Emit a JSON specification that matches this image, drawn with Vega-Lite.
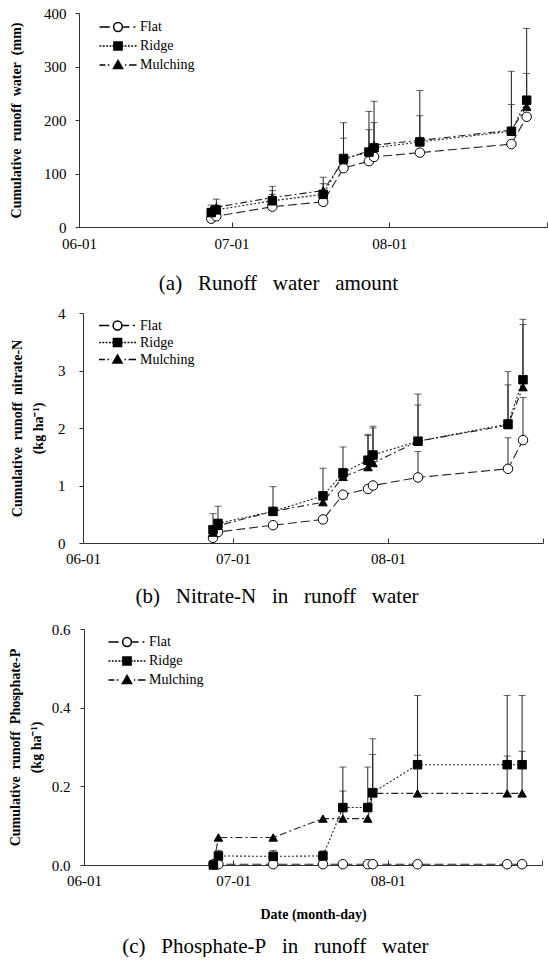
{
  "$schema": "https://vega.github.io/schema/vega-lite/v6.json",
  "padding": {"left": 8, "top": 6, "right": 0, "bottom": 0},
  "background": "white",
  "config": {
    "font": "Liberation Serif",
    "view": {"stroke": null},
    "axis": {
      "labelFont": "Liberation Serif",
      "labelFontSize": 15,
      "labelColor": "#000",
      "titleFont": "Liberation Serif",
      "titleColor": "#000",
      "domainColor": "#333",
      "tickColor": "#333",
      "grid": false
    },
    "legend": {
      "labelFont": "Liberation Serif",
      "labelFontSize": 14,
      "labelColor": "#000"
    },
    "title": {"font": "Liberation Serif", "color": "#000"}
  },
  "data": {
    "values": [
      {"p": "a", "d": "2013/06/27", "s": "Flat", "v": 15.5},
      {"p": "a", "d": "2013/06/28", "s": "Flat", "v": 20},
      {"p": "a", "d": "2013/07/09", "s": "Flat", "v": 38, "u": 61},
      {"p": "a", "d": "2013/07/19", "s": "Flat", "v": 47},
      {"p": "a", "d": "2013/07/23", "s": "Flat", "v": 110},
      {"p": "a", "d": "2013/07/28", "s": "Flat", "v": 123},
      {"p": "a", "d": "2013/07/29", "s": "Flat", "v": 131},
      {"p": "a", "d": "2013/08/07", "s": "Flat", "v": 139},
      {"p": "a", "d": "2013/08/25", "s": "Flat", "v": 155},
      {"p": "a", "d": "2013/08/28", "s": "Flat", "v": 206},
      {"p": "a", "d": "2013/06/27", "s": "Ridge", "v": 27, "u": 41},
      {"p": "a", "d": "2013/06/28", "s": "Ridge", "v": 32, "u": 52},
      {"p": "a", "d": "2013/07/09", "s": "Ridge", "v": 49, "u": 76},
      {"p": "a", "d": "2013/07/19", "s": "Ridge", "v": 61, "u": 93},
      {"p": "a", "d": "2013/07/23", "s": "Ridge", "v": 128, "u": 195},
      {"p": "a", "d": "2013/07/28", "s": "Ridge", "v": 140, "u": 216},
      {"p": "a", "d": "2013/07/29", "s": "Ridge", "v": 148, "u": 235},
      {"p": "a", "d": "2013/08/07", "s": "Ridge", "v": 159, "u": 255},
      {"p": "a", "d": "2013/08/25", "s": "Ridge", "v": 179, "u": 291},
      {"p": "a", "d": "2013/08/28", "s": "Ridge", "v": 237, "u": 371},
      {"p": "a", "d": "2013/06/27", "s": "Mulching", "v": 32},
      {"p": "a", "d": "2013/06/28", "s": "Mulching", "v": 37},
      {"p": "a", "d": "2013/07/09", "s": "Mulching", "v": 55, "u": 68},
      {"p": "a", "d": "2013/07/19", "s": "Mulching", "v": 68, "u": 81},
      {"p": "a", "d": "2013/07/23", "s": "Mulching", "v": 125, "u": 166},
      {"p": "a", "d": "2013/07/28", "s": "Mulching", "v": 143, "u": 182},
      {"p": "a", "d": "2013/07/29", "s": "Mulching", "v": 153, "u": 195},
      {"p": "a", "d": "2013/08/07", "s": "Mulching", "v": 162, "u": 208},
      {"p": "a", "d": "2013/08/25", "s": "Mulching", "v": 181, "u": 229},
      {"p": "a", "d": "2013/08/28", "s": "Mulching", "v": 225, "u": 287},

      {"p": "b", "d": "2013/06/27", "s": "Flat", "v": 0.09},
      {"p": "b", "d": "2013/06/28", "s": "Flat", "v": 0.19},
      {"p": "b", "d": "2013/07/09", "s": "Flat", "v": 0.31},
      {"p": "b", "d": "2013/07/19", "s": "Flat", "v": 0.41},
      {"p": "b", "d": "2013/07/23", "s": "Flat", "v": 0.84},
      {"p": "b", "d": "2013/07/28", "s": "Flat", "v": 0.94},
      {"p": "b", "d": "2013/07/29", "s": "Flat", "v": 1.0},
      {"p": "b", "d": "2013/08/07", "s": "Flat", "v": 1.14, "u": 1.59},
      {"p": "b", "d": "2013/08/25", "s": "Flat", "v": 1.29, "u": 1.83},
      {"p": "b", "d": "2013/08/28", "s": "Flat", "v": 1.79, "u": 2.53},
      {"p": "b", "d": "2013/06/27", "s": "Ridge", "v": 0.23, "u": 0.51},
      {"p": "b", "d": "2013/06/28", "s": "Ridge", "v": 0.34, "u": 0.64},
      {"p": "b", "d": "2013/07/09", "s": "Ridge", "v": 0.55, "u": 0.98},
      {"p": "b", "d": "2013/07/19", "s": "Ridge", "v": 0.82, "u": 1.3},
      {"p": "b", "d": "2013/07/23", "s": "Ridge", "v": 1.22, "u": 1.67},
      {"p": "b", "d": "2013/07/28", "s": "Ridge", "v": 1.44, "u": 1.89},
      {"p": "b", "d": "2013/07/29", "s": "Ridge", "v": 1.53, "u": 2.03},
      {"p": "b", "d": "2013/08/07", "s": "Ridge", "v": 1.77, "u": 2.59},
      {"p": "b", "d": "2013/08/25", "s": "Ridge", "v": 2.07, "u": 2.98},
      {"p": "b", "d": "2013/08/28", "s": "Ridge", "v": 2.84, "u": 3.89},
      {"p": "b", "d": "2013/06/27", "s": "Mulching", "v": 0.18},
      {"p": "b", "d": "2013/06/28", "s": "Mulching", "v": 0.3},
      {"p": "b", "d": "2013/07/09", "s": "Mulching", "v": 0.55},
      {"p": "b", "d": "2013/07/19", "s": "Mulching", "v": 0.71},
      {"p": "b", "d": "2013/07/23", "s": "Mulching", "v": 1.15},
      {"p": "b", "d": "2013/07/28", "s": "Mulching", "v": 1.32, "u": 1.87},
      {"p": "b", "d": "2013/07/29", "s": "Mulching", "v": 1.39, "u": 2.0},
      {"p": "b", "d": "2013/08/07", "s": "Mulching", "v": 1.77, "u": 2.4},
      {"p": "b", "d": "2013/08/25", "s": "Mulching", "v": 2.05, "u": 2.75},
      {"p": "b", "d": "2013/08/28", "s": "Mulching", "v": 2.71, "u": 3.8},

      {"p": "c", "d": "2013/06/27", "s": "Flat", "v": 0.002},
      {"p": "c", "d": "2013/06/28", "s": "Flat", "v": 0.002},
      {"p": "c", "d": "2013/07/09", "s": "Flat", "v": 0.002},
      {"p": "c", "d": "2013/07/19", "s": "Flat", "v": 0.002},
      {"p": "c", "d": "2013/07/23", "s": "Flat", "v": 0.002},
      {"p": "c", "d": "2013/07/28", "s": "Flat", "v": 0.002},
      {"p": "c", "d": "2013/07/29", "s": "Flat", "v": 0.002},
      {"p": "c", "d": "2013/08/07", "s": "Flat", "v": 0.002},
      {"p": "c", "d": "2013/08/25", "s": "Flat", "v": 0.002},
      {"p": "c", "d": "2013/08/28", "s": "Flat", "v": 0.002},
      {"p": "c", "d": "2013/06/27", "s": "Ridge", "v": 0},
      {"p": "c", "d": "2013/06/28", "s": "Ridge", "v": 0.023, "u": 0.037},
      {"p": "c", "d": "2013/07/09", "s": "Ridge", "v": 0.022, "u": 0.037},
      {"p": "c", "d": "2013/07/19", "s": "Ridge", "v": 0.023, "u": 0.036},
      {"p": "c", "d": "2013/07/23", "s": "Ridge", "v": 0.146, "u": 0.249},
      {"p": "c", "d": "2013/07/28", "s": "Ridge", "v": 0.146, "u": 0.249},
      {"p": "c", "d": "2013/07/29", "s": "Ridge", "v": 0.184, "u": 0.321},
      {"p": "c", "d": "2013/08/07", "s": "Ridge", "v": 0.255, "u": 0.431},
      {"p": "c", "d": "2013/08/25", "s": "Ridge", "v": 0.255, "u": 0.431},
      {"p": "c", "d": "2013/08/28", "s": "Ridge", "v": 0.255, "u": 0.431},
      {"p": "c", "d": "2013/06/27", "s": "Mulching", "v": 0},
      {"p": "c", "d": "2013/06/28", "s": "Mulching", "v": 0.07},
      {"p": "c", "d": "2013/07/09", "s": "Mulching", "v": 0.07},
      {"p": "c", "d": "2013/07/19", "s": "Mulching", "v": 0.118},
      {"p": "c", "d": "2013/07/23", "s": "Mulching", "v": 0.118, "u": 0.188},
      {"p": "c", "d": "2013/07/28", "s": "Mulching", "v": 0.118},
      {"p": "c", "d": "2013/07/29", "s": "Mulching", "v": 0.182, "u": 0.281},
      {"p": "c", "d": "2013/08/07", "s": "Mulching", "v": 0.182, "u": 0.279},
      {"p": "c", "d": "2013/08/25", "s": "Mulching", "v": 0.182, "u": 0.277},
      {"p": "c", "d": "2013/08/28", "s": "Mulching", "v": 0.182, "u": 0.289}
    ]
  },
  "bounds": "flush",
  "center": true,
  "spacing": 86,
  "resolve": {
    "scale": {"y": "independent", "shape": "independent"},
    "legend": {"shape": "independent"}
  },
  "vconcat": [
    {
      "width": 468,
      "height": 214,
      "transform": [{"filter": "datum.p === 'a'"}],
      "title": {"text": "(a)\u2002 Runoff\u2002 water\u2002 amount", "orient": "bottom", "anchor": "middle", "frame": "bounds", "fontSize": 21, "fontWeight": "normal", "offset": 22},
      "encoding": {
        "x": {
          "field": "d", "type": "temporal",
          "scale": {"domain": [{"year": 2013, "month": 6, "date": 1}, {"year": 2013, "month": 9, "date": 1}]},
          "axis": {
            "title": null,
            "values": [{"year": 2013, "month": 6, "date": 1}, {"year": 2013, "month": 7, "date": 1}, {"year": 2013, "month": 8, "date": 1}, {"year": 2013, "month": 9, "date": 1}],
            "labelExpr": "month(datum.value) == 8 ? '' : timeFormat(datum.value, '%m-%d')",
            "tickSize": -5, "labelPadding": 14, "labelFlush": false
          }
        },
        "y": {
          "field": "v", "type": "quantitative",
          "scale": {"domain": [0, 400]},
          "axis": {
            "title": "Cumulative\u2002runoff\u2002water\u2002(mm)",
            "titleFontSize": 14, "titleFontWeight": "bold", "titlePadding": 20,
            "values": [0, 100, 200, 300, 400], "tickSize": 4, "labelPadding": 9
          }
        }
      },
      "layer": [
        {
          "mark": {"type": "line", "color": "#222", "strokeWidth": 1.1},
          "encoding": {
            "strokeDash": {"field": "s", "type": "nominal", "scale": {"domain": ["Flat", "Ridge", "Mulching"], "range": [[9, 4], [2, 2], [7, 3, 2, 3]]}, "legend": null}
          }
        },
        {
          "transform": [{"filter": "isValid(datum.u)"}],
          "mark": {"type": "rule", "color": "#222", "strokeWidth": 1},
          "encoding": {"y2": {"field": "u"}}
        },
        {
          "transform": [{"filter": "isValid(datum.u)"}],
          "mark": {"type": "tick", "orient": "horizontal", "size": 7, "thickness": 1, "color": "#222"},
          "encoding": {"y": {"field": "u", "type": "quantitative"}}
        },
        {
          "mark": {"type": "point", "filled": true, "stroke": "#000", "strokeWidth": 1, "opacity": 1},
          "encoding": {
            "shape": {"condition": [{"test": "datum.s === 'Flat'", "value": "circle"}, {"test": "datum.s === 'Mulching'", "value": "triangle-up"}], "value": "square"},
            "fill": {"condition": {"test": "datum.s === 'Flat'", "value": "#fff"}, "value": "#000"},
            "size": {"condition": {"test": "datum.s === 'Flat'", "value": 90}, "value": 72}
          }
        },
        {
          "transform": [{"filter": "false"}],
          "mark": {"type": "point", "filled": false, "color": "#000", "strokeWidth": 1, "opacity": 1},
          "encoding": {
            "shape": {
              "field": "s", "type": "nominal",
              "scale": {
                "domain": ["Flat", "Ridge", "Mulching"],
                "range": [
                  "M-1.85,0H-0.83M-0.44,0A0.44,0.44 0 1,1 0.44,0A0.44,0.44 0 1,1 -0.44,0ZM0.52,0H1.15M1.55,0H1.74",
                  "M-1.85,0H-1.67M-1.52,0H-1.33M-1.18,0H-1M-0.85,0H-0.67M-0.56,0H-0.44M-0.41,-0.41H0.41V0.41H-0.41ZM-0.41,-0.3H0.41M-0.41,-0.2H0.41M-0.41,-0.1H0.41M-0.41,0H0.41M-0.41,0.1H0.41M-0.41,0.2H0.41M-0.41,0.3H0.41M0.44,0H0.56M0.67,0H0.85M1,0H1.18M1.33,0H1.52M1.67,0H1.85",
                  "M-1.85,0H-1.26M-1.02,0H-0.87M0,-0.46L0.46,0.35H-0.46ZM-0.09,-0.3H0.09M-0.15,-0.2H0.15M-0.2,-0.1H0.2M-0.26,0H0.26M-0.32,0.1H0.32M-0.37,0.2H0.37M-0.43,0.3H0.43M0.7,0H0.83M1.11,0H1.85"
                ]
              },
              "legend": {
                "orient": "none", "legendX": 28, "legendY": 3, "title": null,
                "symbolSize": 400, "labelOffset": 11, "rowPadding": 0
              }
            }
          }
        }
      ]
    },
    {
      "width": 460,
      "height": 230,
      "transform": [{"filter": "datum.p === 'b'"}],
      "title": {"text": "(b)\u2002 Nitrate-N\u2002 in\u2002 runoff\u2002 water", "orient": "bottom", "anchor": "middle", "frame": "bounds", "fontSize": 21, "fontWeight": "normal", "offset": 20},
      "encoding": {
        "x": {
          "field": "d", "type": "temporal",
          "scale": {"domain": [{"year": 2013, "month": 6, "date": 1}, {"year": 2013, "month": 9, "date": 1}]},
          "axis": {
            "title": null,
            "values": [{"year": 2013, "month": 6, "date": 1}, {"year": 2013, "month": 7, "date": 1}, {"year": 2013, "month": 8, "date": 1}, {"year": 2013, "month": 9, "date": 1}],
            "labelExpr": "month(datum.value) == 8 ? '' : timeFormat(datum.value, '%m-%d')",
            "tickSize": -5, "labelPadding": 13, "labelFlush": false
          }
        },
        "y": {
          "field": "v", "type": "quantitative",
          "scale": {"domain": [0, 4]},
          "axis": {
            "title": ["Cumulative\u2002runoff\u2002nitrate-N", "(kg ha\u207b\u00b9)"],
            "titleFontSize": 14, "titleFontWeight": "bold", "titlePadding": 12, "titleLineHeight": 21,
            "values": [0, 1, 2, 3, 4], "tickSize": 4, "labelPadding": 14
          }
        }
      },
      "layer": [
        {
          "mark": {"type": "line", "color": "#222", "strokeWidth": 1.1},
          "encoding": {
            "strokeDash": {"field": "s", "type": "nominal", "scale": {"domain": ["Flat", "Ridge", "Mulching"], "range": [[9, 4], [2, 2], [7, 3, 2, 3]]}, "legend": null}
          }
        },
        {
          "transform": [{"filter": "isValid(datum.u)"}],
          "mark": {"type": "rule", "color": "#222", "strokeWidth": 1},
          "encoding": {"y2": {"field": "u"}}
        },
        {
          "transform": [{"filter": "isValid(datum.u)"}],
          "mark": {"type": "tick", "orient": "horizontal", "size": 7, "thickness": 1, "color": "#222"},
          "encoding": {"y": {"field": "u", "type": "quantitative"}}
        },
        {
          "mark": {"type": "point", "filled": true, "stroke": "#000", "strokeWidth": 1, "opacity": 1},
          "encoding": {
            "shape": {"condition": [{"test": "datum.s === 'Flat'", "value": "circle"}, {"test": "datum.s === 'Mulching'", "value": "triangle-up"}], "value": "square"},
            "fill": {"condition": {"test": "datum.s === 'Flat'", "value": "#fff"}, "value": "#000"},
            "size": {"condition": {"test": "datum.s === 'Flat'", "value": 90}, "value": 72}
          }
        },
        {
          "transform": [{"filter": "false"}],
          "mark": {"type": "point", "filled": false, "color": "#000", "strokeWidth": 1, "opacity": 1},
          "encoding": {
            "shape": {
              "field": "s", "type": "nominal",
              "scale": {
                "domain": ["Flat", "Ridge", "Mulching"],
                "range": [
                  "M-2.18,0H-0.98M-0.52,0A0.52,0.52 0 1,1 0.52,0A0.52,0.52 0 1,1 -0.52,0ZM0.61,0H1.35M1.82,0H2.05",
                  "M-2.18,0H-1.96M-1.79,0H-1.56M-1.39,0H-1.18M-1,0H-0.79M-0.66,0H-0.52M-0.48,-0.48H0.48V0.48H-0.48ZM-0.48,-0.35H0.48M-0.48,-0.24H0.48M-0.48,-0.12H0.48M-0.48,0H0.48M-0.48,0.12H0.48M-0.48,0.24H0.48M-0.48,0.35H0.48M0.52,0H0.66M0.79,0H1M1.18,0H1.39M1.56,0H1.79M1.96,0H2.18",
                  "M-2.18,0H-1.48M-1.2,0H-1.02M0,-0.54L0.54,0.41H-0.54ZM-0.11,-0.35H0.11M-0.17,-0.24H0.17M-0.24,-0.12H0.24M-0.31,0H0.31M-0.37,0.12H0.37M-0.44,0.24H0.44M-0.5,0.35H0.5M0.82,0H0.98M1.31,0H2.18"
                ]
              },
              "legend": {
                "orient": "none", "legendX": 25, "legendY": 3, "title": null,
                "symbolSize": 289, "labelOffset": 13, "rowPadding": 0
              }
            }
          }
        }
      ]
    },
    {
      "width": 458,
      "height": 236,
      "transform": [{"filter": "datum.p === 'c'"}],
      "title": {"text": "(c)\u2002 Phosphate-P\u2002 in\u2002 runoff\u2002 water", "orient": "bottom", "anchor": "middle", "frame": "bounds", "fontSize": 21, "fontWeight": "normal", "offset": 15},
      "encoding": {
        "x": {
          "field": "d", "type": "temporal",
          "scale": {"domain": [{"year": 2013, "month": 6, "date": 1}, {"year": 2013, "month": 9, "date": 1}]},
          "axis": {
            "title": "Date (month-day)", "titleFontSize": 14, "titleFontWeight": "bold", "titlePadding": 19,
            "values": [{"year": 2013, "month": 6, "date": 1}, {"year": 2013, "month": 7, "date": 1}, {"year": 2013, "month": 8, "date": 1}, {"year": 2013, "month": 9, "date": 1}],
            "labelExpr": "month(datum.value) == 8 ? '' : timeFormat(datum.value, '%m-%d')",
            "tickSize": -5, "labelPadding": 13, "labelFlush": false
          }
        },
        "y": {
          "field": "v", "type": "quantitative",
          "scale": {"domain": [0, 0.6]},
          "axis": {
            "title": ["Cumulative\u2002runoff\u2002Phosphate-P", "(kg ha\u207b\u00b9)"],
            "titleFontSize": 14, "titleFontWeight": "bold", "titlePadding": 8, "titleLineHeight": 21,
            "values": [0, 0.2, 0.4, 0.6], "format": ".1f", "tickSize": 4, "labelPadding": 10
          }
        }
      },
      "layer": [
        {
          "mark": {"type": "line", "color": "#222", "strokeWidth": 1.1},
          "encoding": {
            "strokeDash": {"field": "s", "type": "nominal", "scale": {"domain": ["Flat", "Ridge", "Mulching"], "range": [[9, 4], [2, 2], [7, 3, 2, 3]]}, "legend": null}
          }
        },
        {
          "transform": [{"filter": "isValid(datum.u)"}],
          "mark": {"type": "rule", "color": "#222", "strokeWidth": 1},
          "encoding": {"y2": {"field": "u"}}
        },
        {
          "transform": [{"filter": "isValid(datum.u)"}],
          "mark": {"type": "tick", "orient": "horizontal", "size": 7, "thickness": 1, "color": "#222"},
          "encoding": {"y": {"field": "u", "type": "quantitative"}}
        },
        {
          "mark": {"type": "point", "filled": true, "stroke": "#000", "strokeWidth": 1, "opacity": 1},
          "encoding": {
            "shape": {"condition": [{"test": "datum.s === 'Flat'", "value": "circle"}, {"test": "datum.s === 'Mulching'", "value": "triangle-up"}], "value": "square"},
            "fill": {"condition": {"test": "datum.s === 'Flat'", "value": "#fff"}, "value": "#000"},
            "size": {"condition": {"test": "datum.s === 'Flat'", "value": 90}, "value": 72}
          }
        },
        {
          "transform": [{"filter": "false"}],
          "mark": {"type": "point", "filled": false, "color": "#000", "strokeWidth": 1, "opacity": 1},
          "encoding": {
            "shape": {
              "field": "s", "type": "nominal",
              "scale": {
                "domain": ["Flat", "Ridge", "Mulching"],
                "range": [
                  "M-1.85,0H-0.83M-0.44,0A0.44,0.44 0 1,1 0.44,0A0.44,0.44 0 1,1 -0.44,0ZM0.52,0H1.15M1.55,0H1.74",
                  "M-1.85,0H-1.67M-1.52,0H-1.33M-1.18,0H-1M-0.85,0H-0.67M-0.56,0H-0.44M-0.41,-0.41H0.41V0.41H-0.41ZM-0.41,-0.3H0.41M-0.41,-0.2H0.41M-0.41,-0.1H0.41M-0.41,0H0.41M-0.41,0.1H0.41M-0.41,0.2H0.41M-0.41,0.3H0.41M0.44,0H0.56M0.67,0H0.85M1,0H1.18M1.33,0H1.52M1.67,0H1.85",
                  "M-1.85,0H-1.26M-1.02,0H-0.87M0,-0.46L0.46,0.35H-0.46ZM-0.09,-0.3H0.09M-0.15,-0.2H0.15M-0.2,-0.1H0.2M-0.26,0H0.26M-0.32,0.1H0.32M-0.37,0.2H0.37M-0.43,0.3H0.43M0.7,0H0.83M1.11,0H1.85"
                ]
              },
              "legend": {
                "orient": "none", "legendX": 32, "legendY": 2, "title": null,
                "symbolSize": 400, "labelOffset": 11, "rowPadding": 0
              }
            }
          }
        }
      ]
    }
  ]
}
